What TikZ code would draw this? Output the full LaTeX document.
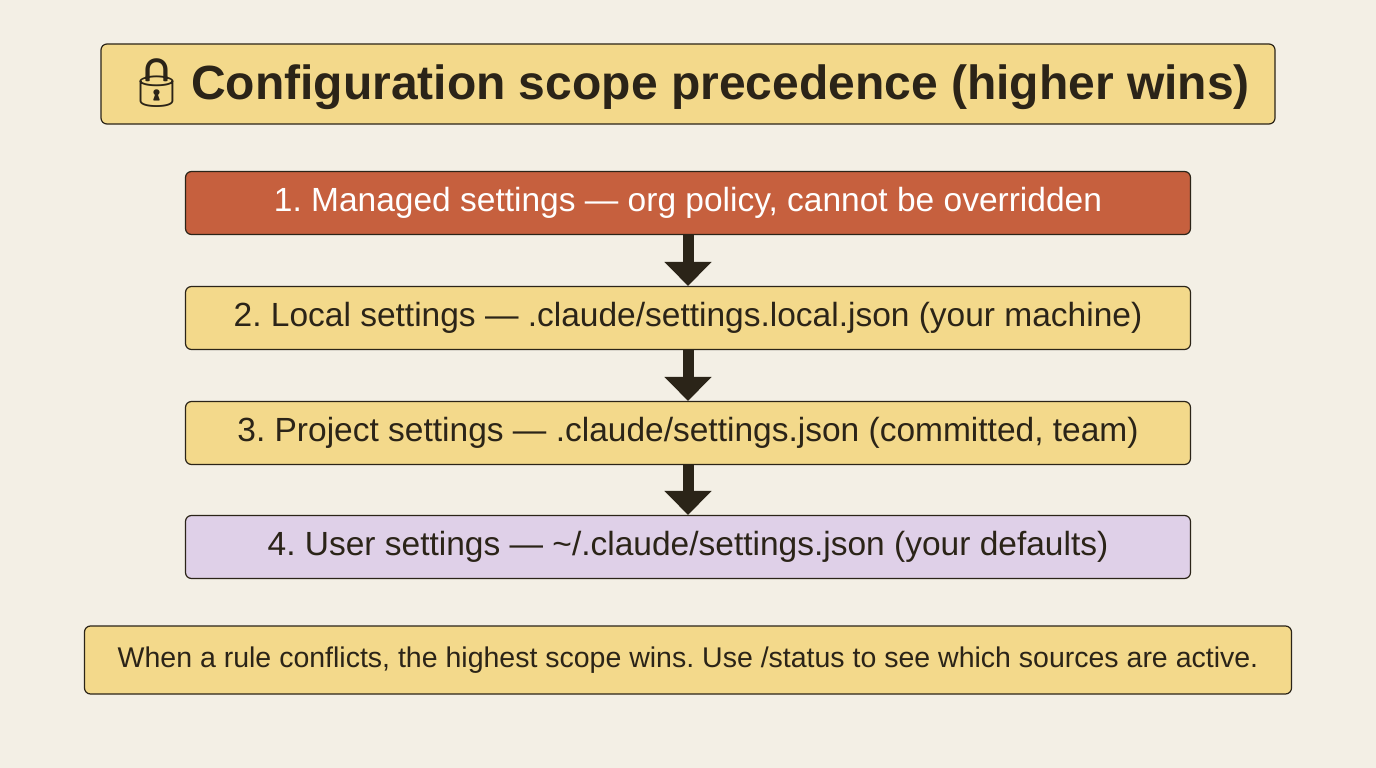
\documentclass[tikz,border=0pt]{standalone}
\usepackage{fontspec}
\setmainfont{Liberation Sans}
\newfontfamily\emojifont{Noto Emoji}
\usetikzlibrary{positioning,arrows.meta}
\definecolor{bgcream}{HTML}{F3EFE5}
\definecolor{boxyellow}{HTML}{F3D98B}
\definecolor{boxred}{HTML}{C6603E}
\definecolor{boxlilac}{HTML}{DFD0E8}
\definecolor{inkdark}{HTML}{2B2418}
\frenchspacing

\begin{document}
\begin{tikzpicture}[
    x=1pt, y=-1pt,
    every node/.style={draw=inkdark, line width=1.2pt, rounded corners=6pt,
        align=center, inner sep=0pt, text=inkdark},
    level/.style={minimum width=1005pt, minimum height=63pt, font=\fontsize{33.5}{39}\selectfont, fill=boxyellow},
    flow/.style={draw=inkdark, line width=11pt, -{Triangle[width=46pt,length=24pt]}}]

    % canvas
    \fill[bgcream] (0,0) rectangle (1376,768);
    \useasboundingbox (0,0) rectangle (1376,768);

    \node[fill=boxyellow, minimum width=1174pt, minimum height=80pt,
        font=\fontsize{48}{54}\selectfont\bfseries] (title) at (688,84)
        {{\emojifont 🔒}\kern4pt Configuration scope precedence (higher wins)};

    \node[level, fill=boxred, text=white] (managed) at (688,203) {1. Managed settings --- org policy, cannot be overridden};
    \node[level] (local) at (688,318) {2. Local settings --- .claude/settings.local.json (your machine)};
    \node[level] (project) at (688,433) {3. Project settings --- .claude/settings.json (committed, team)};
    \node[level, fill=boxlilac] (user) at (688,547) {4. User settings --- \char`~/.claude/settings.json (your defaults)};

    \draw[flow] (managed.south) -- (local.north);
    \draw[flow] (local.south) -- (project.north);
    \draw[flow] (project.south) -- (user.north);

    \node[fill=boxyellow, minimum width=1207pt, minimum height=68pt,
        font=\fontsize{28.5}{33}\selectfont] (note) at (688,660)
        {When a rule conflicts, the highest scope wins. Use /status to see which sources are active.};

\end{tikzpicture}
\end{document}
